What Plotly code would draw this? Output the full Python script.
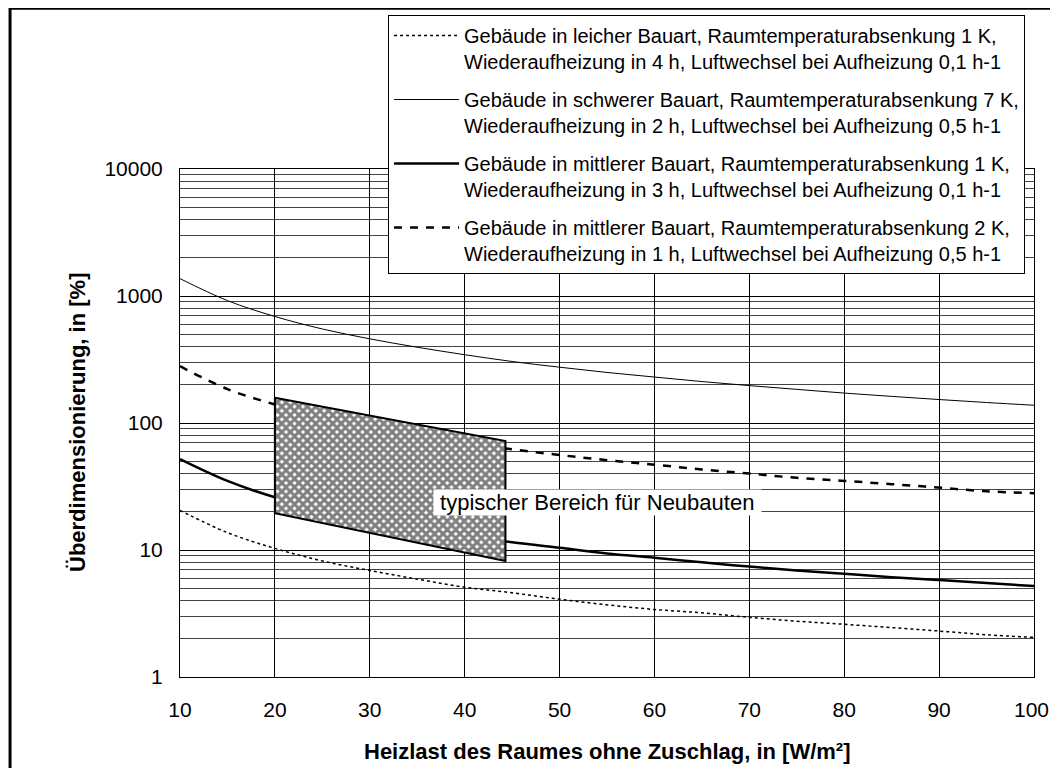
import math
import plotly.graph_objects as go

x_vals = [10, 15, 20, 25, 30, 35, 40, 45, 50, 55, 60, 65, 70, 75, 80, 85, 90, 95, 100]
leicht_1K = [20.5, 13.7, 10.3, 8.2, 6.9, 5.9, 5.1, 4.6, 4.1, 3.7, 3.4, 3.2, 2.95, 2.75, 2.6, 2.45, 2.3, 2.15, 2.05]
schwer_7K = [1370, 920, 690, 550, 460, 395, 345, 305, 275, 250, 230, 212, 197, 184, 172, 162, 153, 145, 138]
mittel_1K = [52, 35, 26, 21, 17.3, 14.8, 13, 11.5, 10.4, 9.4, 8.7, 8.0, 7.4, 6.9, 6.5, 6.1, 5.8, 5.5, 5.2]
mittel_2K = [280, 185, 140, 112, 93, 80, 70, 62, 56, 51, 47, 43, 40, 37, 35, 33, 31, 29, 28]

names = [
    "Gebäude in leicher Bauart, Raumtemperaturabsenkung 1 K,<br>Wiederaufheizung in 4 h, Luftwechsel bei Aufheizung 0,1 h-1",
    "Gebäude in schwerer Bauart, Raumtemperaturabsenkung 7 K,<br>Wiederaufheizung in 2 h, Luftwechsel bei Aufheizung 0,5 h-1",
    "Gebäude in mittlerer Bauart, Raumtemperaturabsenkung 1 K,<br>Wiederaufheizung in 3 h, Luftwechsel bei Aufheizung 0,1 h-1",
    "Gebäude in mittlerer Bauart, Raumtemperaturabsenkung 2 K,<br>Wiederaufheizung in 1 h, Luftwechsel bei Aufheizung 0,5 h-1",
]

# typical range for new buildings (polygon corners)
zone_x = [20, 44.3, 44.3, 20, 20]
zone_y = [158, 72, 8.2, 19.5, 158]
zone_label = "typischer Bereich für Neubauten"
zone_label_x, zone_label_y = 54.0, 23.5

y_ticks = [1, 10, 100, 1000, 10000]
x_ticks = [10, 20, 30, 40, 50, 60, 70, 80, 90, 100]

x_title = "<b>Heizlast des Raumes ohne Zuschlag, in [W/m²]</b>"
y_title = "<b>Überdimensionierung, in [%]</b>"

FONT = "Liberation Sans, Arial, sans-serif"

fig = go.Figure()
styles = [
    dict(width=1.5, dash="dot"),
    dict(width=1, dash="solid"),
    dict(width=2.5, dash="solid"),
    dict(width=2.5, dash="8px,8px"),
]
series = [leicht_1K, schwer_7K, mittel_1K, mittel_2K]
for i, (s, n, st) in enumerate(zip(series, names, styles)):
    fig.add_trace(go.Scatter(
        x=x_vals, y=s, mode="lines", name=n, line=dict(color="black", shape="spline", **st),
        legendgroup=str(i),
    ))

fig.add_trace(go.Scatter(
    x=zone_x, y=zone_y, mode="lines", fill="toself", showlegend=False,
    line=dict(color="black", width=2),
    fillcolor="white",
    fillpattern=dict(shape="x", fgcolor="black", bgcolor="white", size=6, solidity=0.75),
    hoverinfo="skip",
))

minor_vals = [m * 10 ** d for d in range(4) for m in range(2, 10)]

# last x tick label is drawn as an annotation nudged inward so it stays inside the page
x_ticktext = [str(v) for v in x_ticks[:-1]] + [""]
last_tick = x_ticks[-1]

fig.update_layout(
    width=1042, height=760,
    margin=dict(l=172, r=16, t=161, b=91, autoexpand=False),
    paper_bgcolor="white", plot_bgcolor="white",
    font=dict(family=FONT, color="black", size=20),
    showlegend=True,
    legend=dict(
        x=0.2436, y=1.3031, xanchor="left", yanchor="top",
        bgcolor="white", bordercolor="black", borderwidth=1,
        font=dict(size=20, family=FONT), tracegroupgap=9,
        itemwidth=65, valign="top",
    ),
    xaxis=dict(
        range=[10, 100], tickvals=x_ticks, ticktext=x_ticktext,
        showgrid=True, gridcolor="black", gridwidth=1,
        showline=True, linecolor="black", linewidth=1, mirror=True, ticks="",
        zeroline=False, tickfont=dict(size=21), ticklabelstandoff=14,
        ticklabeloverflow="allow", automargin=False,
    ),
    yaxis=dict(
        type="log", range=[0, 4], tickvals=y_ticks, ticktext=[str(v) for v in y_ticks],
        showgrid=True, gridcolor="black", gridwidth=1,
        minor=dict(tickvals=minor_vals, showgrid=True, gridcolor="#444", gridwidth=1, ticks=""),
        showline=True, linecolor="black", linewidth=1, mirror=True, ticks="",
        tickfont=dict(size=21), ticklabelstandoff=12, automargin=False,
    ),
    annotations=[
        dict(x=zone_label_x, y=math.log10(zone_label_y), xref="x", yref="y",
             text="&nbsp;" + zone_label + "&nbsp;",
             showarrow=False, bgcolor="white", font=dict(size=22), borderpad=0),
        dict(x=last_tick, y=0, xref="x", yref="paper", text=str(last_tick), showarrow=False,
             yanchor="middle", xanchor="center", yshift=-32, xshift=-3, font=dict(size=21)),
        dict(x=0.5, y=0, xref="paper", yref="paper", text=x_title, showarrow=False,
             yanchor="middle", yshift=-74, font=dict(size=22)),
        dict(x=0, y=0.5, xref="paper", yref="paper", text=y_title, showarrow=False,
             textangle=-90, xanchor="center", xshift=-103, font=dict(size=22)),
    ],
    shapes=[dict(type="rect", xref="paper", yref="paper",
                 x0=-0.199, x1=1.1, y0=-0.3, y1=1.3165,
                 line=dict(color="black", width=3))],
)

fig.write_html("out.html")
